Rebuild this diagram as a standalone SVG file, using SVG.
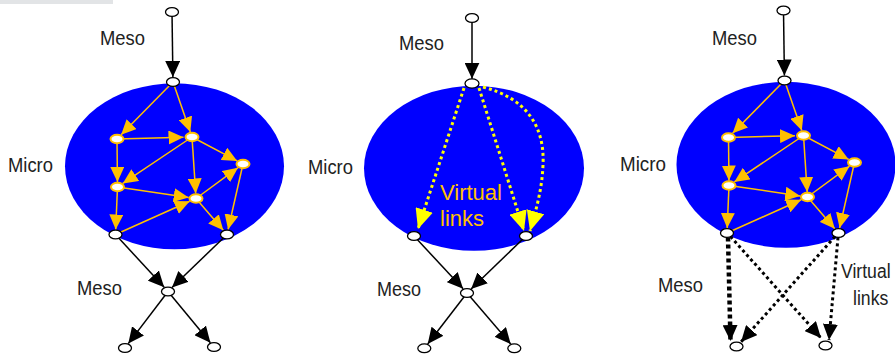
<svg xmlns="http://www.w3.org/2000/svg" width="895" height="358" viewBox="0 0 895 358">
<style>
.bg{fill:#ffffff}
.cloud{fill:#0000ff}
.bn{fill:#ffffff;stroke:#000000;stroke-width:1.3}
.yn{fill:#ffffff;stroke:#ffc000;stroke-width:2}
.be{stroke:#000000;stroke-width:1.5;fill:none;marker-end:url(#ahB)}
.ye{stroke:#ffc000;stroke-width:1.5;fill:none;marker-end:url(#ahG)}
.ve{stroke:#ffff00;stroke-width:3;stroke-dasharray:3 3;fill:none;marker-end:url(#ahY)}
.de{stroke:#000000;stroke-width:3;stroke-dasharray:3 3;fill:none;marker-end:url(#ahD)}
.dt{stroke:#000000;stroke-width:4.5;stroke-dasharray:4 3;fill:none;marker-end:url(#ahD)}
.lbl{font-family:"Liberation Sans",Arial,sans-serif;font-size:21px;fill:#222222}
.vl{font-family:"Liberation Sans",Arial,sans-serif;font-size:22px;fill:#ffc000}
</style>
<defs>
<marker id="ahB" markerUnits="userSpaceOnUse" markerWidth="17" markerHeight="15" refX="16" refY="7.5" orient="auto"><path d="M0,0 L16,7.5 L0,15 z" fill="#000000"/></marker>
<marker id="ahG" markerUnits="userSpaceOnUse" markerWidth="16" markerHeight="14" refX="15" refY="7" orient="auto"><path d="M0,0 L15,7 L0,14 z" fill="#ffc000"/></marker>
<marker id="ahY" markerUnits="userSpaceOnUse" markerWidth="21" markerHeight="18" refX="20" refY="9" orient="auto"><path d="M0,0 L20,9 L0,18 z" fill="#ffff00"/></marker>
<marker id="ahD" markerUnits="userSpaceOnUse" markerWidth="17" markerHeight="15" refX="16" refY="7.5" orient="auto"><path d="M0,0 L16,7.5 L0,15 z" fill="#000000"/></marker>
</defs>
<rect class="bg" x="0" y="0" width="895" height="358"/>
<rect x="0" y="0" width="113" height="4" fill="#e2e4e6"/>

<!-- Panel 1 -->
<g id="panel1">
<ellipse id="micro1" class="cloud" cx="174.5" cy="166.3" rx="109.5" ry="83"/>
<g id="connectors1">
<line class="be" x1="172" y1="12" x2="172.9" y2="77"/>
<line class="ye" x1="173" y1="82" x2="121.1" y2="134.8"/>
<line class="ye" x1="173" y1="82" x2="190.3" y2="132.1"/>
<line class="ye" x1="117" y1="139" x2="183.5" y2="137.2"/>
<line class="ye" x1="117" y1="139" x2="117.45" y2="182"/>
<line class="ye" x1="192" y1="137" x2="122.8" y2="183.4"/>
<line class="ye" x1="192" y1="137" x2="195.7" y2="193.5"/>
<line class="ye" x1="192" y1="137" x2="237.2" y2="160.9"/>
<line class="ye" x1="117.5" y1="187" x2="188.7" y2="197.4"/>
<line class="ye" x1="117.5" y1="187" x2="115.7" y2="229.5"/>
<line class="ye" x1="115.5" y1="234.5" x2="189.7" y2="201.3"/>
<line class="ye" x1="196" y1="198.5" x2="238" y2="167.7"/>
<line class="ye" x1="196" y1="198.5" x2="223.3" y2="230.3"/>
<line class="ye" x1="243" y1="164" x2="228.1" y2="229.5"/>
<line class="be" x1="115.5" y1="234.5" x2="164.2" y2="287.3"/>
<line class="be" x1="227" y1="234.5" x2="172" y2="287.5"/>
<line class="be" x1="168" y1="291.5" x2="128.3" y2="343.6"/>
<line class="be" x1="168" y1="291.5" x2="210.4" y2="342.7"/>
</g>
<g id="p1-top"><ellipse class="bn" cx="172" cy="12" rx="6.5" ry="4.4"/></g>
<g id="p1-in"><ellipse class="bn" cx="173" cy="82" rx="6.5" ry="4.4"/></g>
<g id="p1-a"><ellipse class="yn" cx="117" cy="139" rx="6.5" ry="4.2"/></g>
<g id="p1-b"><ellipse class="yn" cx="192" cy="137" rx="6.5" ry="4.2"/></g>
<g id="p1-c"><ellipse class="yn" cx="243" cy="164" rx="6.5" ry="4.2"/></g>
<g id="p1-d"><ellipse class="yn" cx="117.5" cy="187" rx="6.5" ry="4.2"/></g>
<g id="p1-e"><ellipse class="yn" cx="196" cy="198.5" rx="6.5" ry="4.2"/></g>
<g id="p1-f"><ellipse class="bn" cx="115.5" cy="234.5" rx="6.5" ry="4.4"/></g>
<g id="p1-g"><ellipse class="bn" cx="227" cy="234.5" rx="6.5" ry="4.4"/></g>
<g id="p1-h"><ellipse class="bn" cx="168" cy="291.5" rx="6.5" ry="4.4"/></g>
<g id="p1-i"><ellipse class="bn" cx="125" cy="348" rx="6.5" ry="4.4"/></g>
<g id="p1-j"><ellipse class="bn" cx="214" cy="347" rx="6.5" ry="4.4"/></g>
<text class="lbl" x="100" y="45" textLength="45" lengthAdjust="spacingAndGlyphs">Meso</text>
<text class="lbl" x="8" y="172" textLength="45" lengthAdjust="spacingAndGlyphs">Micro</text>
<text class="lbl" x="77" y="295" textLength="45" lengthAdjust="spacingAndGlyphs">Meso</text>
</g>

<!-- Panel 2 -->
<g id="panel2">
<ellipse id="micro2" class="cloud" cx="474" cy="168.3" rx="110" ry="82.5"/>
<text class="vl" x="440" y="200">Virtual</text>
<text class="vl" x="440" y="226">links</text>
<g id="connectors2">
<line class="be" x1="472" y1="18" x2="472" y2="78.7"/>
<path class="ve" d="M464,88 L418,229"/>
<path class="ve" d="M479,88 L524,231"/>
<path class="ve" d="M483,87 C525,98 545,125 543,165 C542,190 536,210 530,231"/>
<line class="be" x1="414" y1="236" x2="463.1" y2="288.8"/>
<line class="be" x1="526" y1="236" x2="471.1" y2="289"/>
<line class="be" x1="467" y1="293" x2="427.7" y2="344"/>
<line class="be" x1="467" y1="293" x2="510.7" y2="344"/>
</g>
<g id="p2-top"><ellipse class="bn" cx="472" cy="18" rx="6.5" ry="4.4"/></g>
<g id="p2-in"><ellipse class="bn" cx="472" cy="83.5" rx="7" ry="4.6"/></g>
<g id="p2-f"><ellipse class="bn" cx="414" cy="236" rx="6.5" ry="4.4"/></g>
<g id="p2-g"><ellipse class="bn" cx="526" cy="236" rx="6.5" ry="4.4"/></g>
<g id="p2-h"><ellipse class="bn" cx="467" cy="293" rx="6.5" ry="4.4"/></g>
<g id="p2-i"><ellipse class="bn" cx="424.3" cy="348.3" rx="6.5" ry="4.4"/></g>
<g id="p2-j"><ellipse class="bn" cx="514.3" cy="348.3" rx="6.5" ry="4.4"/></g>
<text class="lbl" x="399" y="50" textLength="45" lengthAdjust="spacingAndGlyphs">Meso</text>
<text class="lbl" x="308" y="174" textLength="45" lengthAdjust="spacingAndGlyphs">Micro</text>
<text class="lbl" x="377" y="296" textLength="44" lengthAdjust="spacingAndGlyphs">Meso</text>
</g>

<!-- Panel 3 -->
<g id="panel3" transform="translate(611.5,-1.5)">
<ellipse id="micro3" class="cloud" cx="174.5" cy="166.3" rx="109.5" ry="83"/>
<g id="connectors3">
<line class="be" x1="172" y1="12" x2="172.9" y2="77"/>
<line class="ye" x1="173" y1="82" x2="121.1" y2="134.8"/>
<line class="ye" x1="173" y1="82" x2="190.3" y2="132.1"/>
<line class="ye" x1="117" y1="139" x2="183.5" y2="137.2"/>
<line class="ye" x1="117" y1="139" x2="117.45" y2="182"/>
<line class="ye" x1="192" y1="137" x2="122.8" y2="183.4"/>
<line class="ye" x1="192" y1="137" x2="195.7" y2="193.5"/>
<line class="ye" x1="192" y1="137" x2="237.2" y2="160.9"/>
<line class="ye" x1="117.5" y1="187" x2="188.7" y2="197.4"/>
<line class="ye" x1="117.5" y1="187" x2="115.7" y2="229.5"/>
<line class="ye" x1="115.5" y1="234.5" x2="189.7" y2="201.3"/>
<line class="ye" x1="196" y1="198.5" x2="238" y2="167.7"/>
<line class="ye" x1="196" y1="198.5" x2="223.3" y2="230.3"/>
<line class="ye" x1="243" y1="164" x2="228.1" y2="229.5"/>
<path class="dt" d="M116.5,239 L119,342.5"/>
<path class="de" d="M119,238 L209.5,339.5"/>
<path class="de" d="M223.5,238 L129.5,343.5"/>
<path class="de" d="M226.5,239 L217.5,341.5"/>
</g>
<g id="p3-top"><ellipse class="bn" cx="172" cy="12" rx="6.5" ry="4.4"/></g>
<g id="p3-in"><ellipse class="bn" cx="173" cy="82" rx="6.5" ry="4.4"/></g>
<g id="p3-a"><ellipse class="yn" cx="117" cy="139" rx="6.5" ry="4.2"/></g>
<g id="p3-b"><ellipse class="yn" cx="192" cy="137" rx="6.5" ry="4.2"/></g>
<g id="p3-c"><ellipse class="yn" cx="243" cy="164" rx="6.5" ry="4.2"/></g>
<g id="p3-d"><ellipse class="yn" cx="117.5" cy="187" rx="6.5" ry="4.2"/></g>
<g id="p3-e"><ellipse class="yn" cx="196" cy="198.5" rx="6.5" ry="4.2"/></g>
<g id="p3-f"><ellipse class="bn" cx="115.5" cy="234.5" rx="6.5" ry="4.4"/></g>
<g id="p3-g"><ellipse class="bn" cx="227" cy="234.5" rx="6.5" ry="4.4"/></g>
<g id="p3-i"><ellipse class="bn" cx="125" cy="348" rx="6.5" ry="4.4"/></g>
<g id="p3-j"><ellipse class="bn" cx="214" cy="347" rx="6.5" ry="4.4"/></g>
</g>
<text class="lbl" x="712" y="45" textLength="45" lengthAdjust="spacingAndGlyphs">Meso</text>
<text class="lbl" x="620" y="171" textLength="46" lengthAdjust="spacingAndGlyphs">Micro</text>
<text class="lbl" x="658" y="292" textLength="45" lengthAdjust="spacingAndGlyphs">Meso</text>
<text class="lbl" transform="translate(841,278) scale(0.84,1)" x="0" y="0">Virtual</text>
<text class="lbl" transform="translate(853,305) scale(0.84,1)" x="0" y="0">links</text>
</svg>
